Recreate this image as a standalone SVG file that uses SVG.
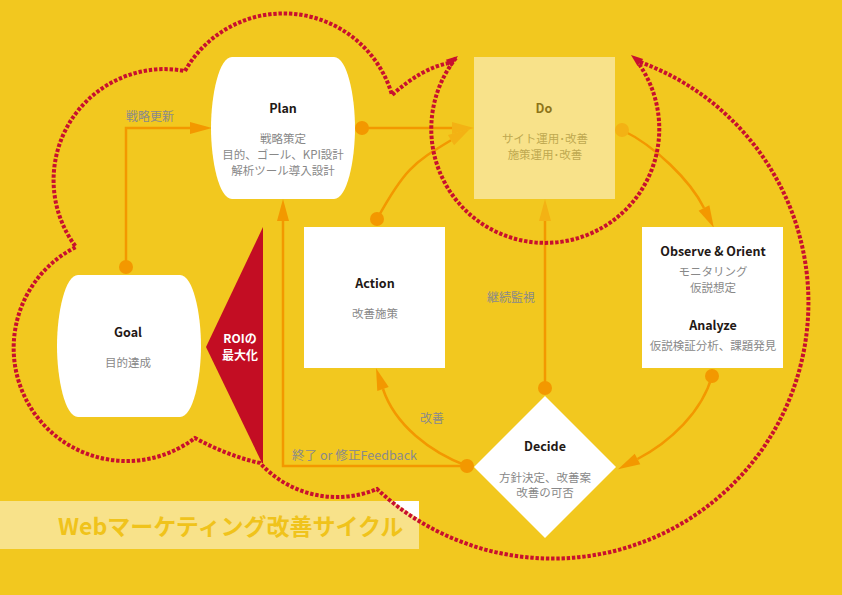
<svg xmlns="http://www.w3.org/2000/svg" width="842" height="595" viewBox="0 0 842 595">
<style>
text{font-family:"Noto Sans CJK JP","Noto Sans",sans-serif;text-anchor:middle}
.t{font-size:12.5px;font-weight:bold;fill:#231815}
.s{font-size:11.5px;fill:#888888}
.lb{font-size:12px;fill:#8a8a8a}
.w{fill:#ffffff}
.ln{fill:none;stroke:#F39800;stroke-width:2.5}
.dot{fill:#F39800}
.cl{fill:none;stroke:#C8102E;stroke-width:4;stroke-dasharray:3.4 1.8}
.ch{fill:#C8102E}
</style>
<defs>
<path id="barrel" d="M-51,-71 H51 C64,-71 72,-33 72,0 C72,33 64,71 51,71 H-51 C-64,71 -72,33 -72,0 C-72,-33 -64,-71 -51,-71 Z"/>
<marker id="ah" markerUnits="userSpaceOnUse" markerWidth="22" markerHeight="12" refX="0" refY="6" orient="auto" overflow="visible">
<path d="M0,0 L22,6 L0,12 Z" fill="#F39800"/>
</marker>
<marker id="ahl" markerUnits="userSpaceOnUse" markerWidth="22" markerHeight="12" refX="0" refY="6" orient="auto" overflow="visible">
<path d="M0,0 L22,6 L0,12 Z" fill="#F3B214"/>
</marker>
</defs>
<rect width="842" height="595" fill="#F2C81F"/>
<g id="banner">
<rect x="0" y="501" width="419" height="48" fill="#F8E28A"/>
<polygon points="392,501 419,501 419,519" fill="#ffffff"/>
<text x="58" y="535" style="text-anchor:start;font-size:23px;font-weight:bold;fill:#F0C31B">Webマーケティング改善サイクル</text>
</g>
<g id="roi">
<polygon points="263,227 206,347 262,463 263,463" fill="#C30D23"/>
<text x="240" y="343" style="font-size:12px;font-weight:bold;fill:#fff">ROIの</text>
<text x="240" y="359.5" style="font-size:12px;font-weight:bold;fill:#fff">最大化</text>
</g>
<g id="connectors">
<path class="ln" d="M126,267 V128 H190" marker-end="url(#ah)"/>
<circle class="dot" cx="126" cy="267" r="7"/>
<text class="lb" x="150" y="120.5">戦略更新</text>
<path class="ln" d="M362,128 H452" marker-end="url(#ahl)"/>
<circle class="dot" cx="362" cy="128" r="7"/>
<path class="ln" d="M377,219 C404,170 413,163 451,140.2" marker-end="url(#ahl)"/>
<circle class="dot" cx="377" cy="219" r="7"/>
<path class="ln" d="M622,130 C655,146 690,180 704,208" marker-end="url(#ah)"/>
<circle cx="622" cy="130" r="7" fill="#F3B214"/>
<path class="ln" d="M712,376 C702,412 670,442 637.5,459" marker-end="url(#ah)"/>
<circle class="dot" cx="712" cy="376" r="7"/>
<path class="ln" d="M545,388 V221" marker-end="url(#ahl)"/>
<circle class="dot" cx="545" cy="388" r="7"/>
<text class="lb" x="511" y="301.5">継続監視</text>
<path class="ln" d="M467,466 C430,452 395,425 383,389" marker-end="url(#ah)"/>
<text class="lb" x="432" y="422.5">改善</text>
<path class="ln" d="M467,466 H283 V221" marker-end="url(#ah)"/>
<circle class="dot" cx="467" cy="466" r="7"/>
<text class="lb" x="292" y="459.5" textLength="125" lengthAdjust="spacingAndGlyphs" style="text-anchor:start">終了 or 修正Feedback</text>
</g>
<g id="plan">
<use href="#barrel" transform="translate(283,128)" class="w"/>
<text class="t" x="283" y="112.5">Plan</text>
<text class="s" x="283" y="142.5">戦略策定</text>
<text class="s" x="283" y="158.5">目的、ゴール、KPI設計</text>
<text class="s" x="283" y="175">解析ツール導入設計</text>
</g>
<g id="goal">
<use href="#barrel" transform="translate(129,346)" class="w"/>
<text class="t" x="128" y="336.5">Goal</text>
<text class="s" x="128" y="366.5">目的達成</text>
</g>
<g id="do" opacity="0.48">
<rect x="474" y="57" width="141" height="142" fill="#fff"/>
<text class="t" x="544" y="112.5">Do</text>
<text class="s" x="545" y="142.5">サイト運用･改善</text>
<text class="s" x="545" y="158.5">施策運用･改善</text>
</g>
<g id="action">
<rect x="304" y="227" width="141" height="141" fill="#fff"/>
<text class="t" x="375" y="287.5">Action</text>
<text class="s" x="375" y="317.5">改善施策</text>
</g>
<g id="observe">
<rect x="642" y="227" width="141" height="141" fill="#fff"/>
<text class="t" x="713" y="255.5">Observe &amp; Orient</text>
<text class="s" x="713" y="276">モニタリング</text>
<text class="s" x="713" y="291.5">仮説想定</text>
<text class="t" x="713" y="329.5">Analyze</text>
<text class="s" x="713" y="349.5">仮説検証分析、課題発見</text>
</g>
<g id="decide">
<polygon points="545,396 616,467 545,538 474,467" fill="#fff"/>
<text class="t" x="545" y="450.5">Decide</text>
<text class="s" x="545" y="481.5">方針決定、改善案</text>
<text class="s" x="545" y="497">改善の可否</text>
</g>
<g id="cloud">
<path class="cl" d="M640,62 A256,256 0 1 1 377,489 A104,104 0 0 1 260,463 Q228,456 195,438 A113,113 0 1 1 76,247 A111,111 0 0 1 185,71 A113,113 0 0 1 392,95 Q422,68 449,63"/>
<path class="cl" d="M456,58 A114,114 0 1 0 639,64"/>
<polygon class="ch" points="458,56 445.8,59.8 451.3,66.9"/>
<polygon class="ch" points="631,55 643.2,59.1 637.5,66.1"/>
</g>
</svg>
